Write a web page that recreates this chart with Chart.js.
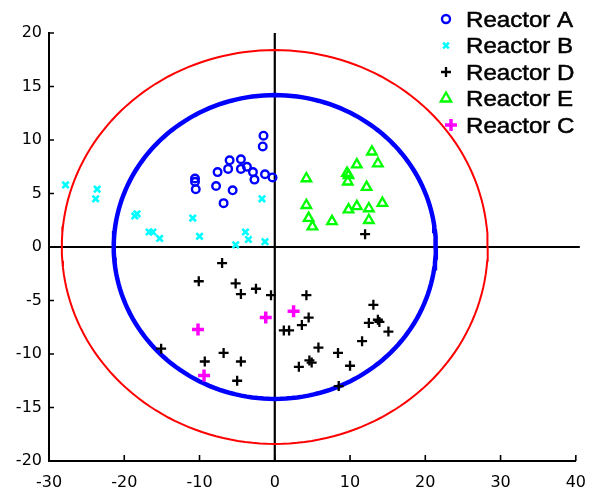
<!DOCTYPE html>
<html>
<head>
<meta charset="utf-8">
<script src="https://cdn.jsdelivr.net/npm/chart.js@4.4.1/dist/chart.umd.min.js"></script>
<style>
html, body { margin: 0; padding: 0; background: #fff; }
</style>
</head>
<body>
<canvas id="scoreChart" width="598" height="495"></canvas>
<script>
// PCA scores per reactor, [PC1, PC2]
const reactorA = [
    [-1.5, 10.4], [-1.6, 9.4], [-6.0, 8.1], [-4.5, 8.2], [-6.2, 7.3], [-4.5, 7.3],
    [-3.7, 7.5], [-2.9, 7.0], [-2.7, 6.3], [-1.3, 6.8], [-0.3, 6.5], [-7.6, 7.0],
    [-7.8, 5.7], [-10.6, 6.4], [-10.6, 6.1], [-10.5, 5.4], [-5.6, 5.3], [-6.8, 4.1]
];
const reactorB = [
    [-27.8, 5.8], [-23.6, 5.4], [-23.8, 4.5], [-18.6, 2.9], [-18.3, 3.1], [-10.9, 2.7],
    [-16.7, 1.4], [-16.2, 1.4], [-15.3, 0.8], [-10.0, 1.0], [-1.7, 4.5], [-3.9, 1.4],
    [-3.5, 0.7], [-5.2, 0.2], [-1.3, 0.5]
];
const reactorD = [
    [12.0, 1.2], [-7.0, -1.5], [-10.1, -3.2], [-5.2, -3.4], [-4.5, -4.4], [-2.5, -3.9],
    [-0.5, -4.5], [-15.1, -9.5], [-9.3, -10.7], [-6.8, -9.9], [-4.5, -10.7], [-5.0, -12.5],
    [4.2, -4.5], [4.5, -6.6], [3.6, -7.3], [1.2, -7.8], [1.9, -7.8], [5.8, -9.4],
    [8.4, -9.9], [4.6, -10.6], [4.9, -10.8], [3.2, -11.2], [10.0, -11.1], [11.6, -8.8],
    [12.5, -7.1], [13.7, -6.8], [13.9, -7.0], [13.1, -5.4], [15.1, -7.9], [8.5, -13.0]
];
const reactorE = [
    [12.9, 8.9], [13.7, 7.8], [10.9, 7.7], [9.6, 6.9], [9.8, 6.7], [9.7, 6.1],
    [4.2, 6.4], [12.2, 5.6], [4.2, 3.9], [14.3, 4.1], [10.9, 3.8], [9.8, 3.5],
    [12.5, 3.6], [12.5, 2.5], [4.5, 2.7], [5.0, 1.9], [7.6, 2.4]
];
const reactorC = [
    [-10.2, -7.7], [-1.2, -6.6], [-9.4, -12.0], [2.5, -6.0]
];

// confidence limits, semi-axes [PC1, PC2]
const innerLimit = [21.4, 14.2];
const outerLimit = [28.3, 18.4];

const xTicks = [-30, -20, -10, 0, 10, 20, 30, 40];
const yTicks = [-20, -15, -10, -5, 0, 5, 10, 15, 20];

function toPoints(arr) {
    return arr.map(p => ({ x: p[0], y: p[1] }));
}

function ellipse(radii) {
    const pts = [];
    for (let i = 0; i <= 180; i++) {
        const t = i / 180 * Math.PI * 2;
        pts.push({ x: radii[0] * Math.cos(t), y: radii[1] * Math.sin(t) });
    }
    return pts;
}

// zero lines and inward tick marks
const axisExtras = {
    id: 'axisExtras',
    beforeDatasetsDraw(chart) {
        const { ctx, chartArea, scales } = chart;
        const x0 = scales.x.getPixelForValue(0);
        const y0 = scales.y.getPixelForValue(0);
        ctx.save();
        ctx.strokeStyle = '#000';
        ctx.lineWidth = 2.2;
        ctx.beginPath();
        ctx.moveTo(x0, chartArea.top);
        ctx.lineTo(x0, chartArea.bottom);
        ctx.moveTo(chartArea.left, y0);
        ctx.lineTo(chartArea.right + 4, y0);
        ctx.stroke();
        ctx.restore();
    },
    afterDraw(chart) {
        const { ctx, chartArea, scales } = chart;
        ctx.save();
        ctx.strokeStyle = '#000';
        ctx.lineWidth = 1.6;
        ctx.beginPath();
        yTicks.forEach(v => {
            const y = scales.y.getPixelForValue(v);
            ctx.moveTo(chartArea.left, y);
            ctx.lineTo(chartArea.left + 5, y);
        });
        xTicks.forEach(v => {
            const x = scales.x.getPixelForValue(v);
            ctx.moveTo(x, chartArea.bottom);
            ctx.lineTo(x, chartArea.bottom - 6);
        });
        ctx.stroke();
        ctx.restore();
    }
};

// legend in the top right corner
const cornerLegend = {
    id: 'cornerLegend',
    afterDraw(chart) {
        const { ctx } = chart;
        const items = chart.data.datasets.filter(d => d.inLegend);
        ctx.save();
        items.forEach((d, i) => {
            const y = 19 + i * 26.5;
            const mx = d.label === 'Reactor C' ? 451 : 446;
            ctx.strokeStyle = d.borderColor;
            ctx.fillStyle = 'rgba(0,0,0,0)';
            ctx.lineWidth = d.borderWidth;
            Chart.helpers.drawPoint(ctx, {
                pointStyle: d.pointStyle, radius: d.legendRadius, borderWidth: d.borderWidth, rotation: 0
            }, mx, y);
            ctx.save();
            ctx.translate(466, y + 7.5);
            ctx.scale(1.12, 1);
            ctx.fillStyle = '#000';
            ctx.strokeStyle = '#000';
            ctx.lineWidth = 0.5;
            ctx.font = '21.5px "Liberation Sans", Arial, sans-serif';
            ctx.textBaseline = 'alphabetic';
            ctx.fillText(d.label, 0, 0);
            ctx.strokeText(d.label, 0, 0);
            ctx.restore();
        });
        ctx.restore();
    }
};

const tickFont = { family: 'DejaVu Sans', size: 16 };

new Chart(document.getElementById('scoreChart'), {
    type: 'scatter',
    data: {
        datasets: [
            {
                label: 'Reactor A', inLegend: true, legendRadius: 4,
                data: toPoints(reactorA),
                pointStyle: 'circle', pointRadius: 3.8,
                borderColor: '#0000ff', backgroundColor: 'rgba(0,0,0,0)', borderWidth: 2.4
            },
            {
                label: 'Reactor B', inLegend: true, legendRadius: 4,
                data: toPoints(reactorB),
                pointStyle: 'crossRot', pointRadius: 4.5,
                borderColor: '#00ffff', backgroundColor: '#00ffff', borderWidth: 2.6
            },
            {
                label: 'Reactor D', inLegend: true, legendRadius: 5,
                data: toPoints(reactorD),
                pointStyle: 'cross', pointRadius: 5,
                borderColor: '#000000', backgroundColor: '#000000', borderWidth: 2.3
            },
            {
                label: 'Reactor E', inLegend: true, legendRadius: 6,
                data: toPoints(reactorE),
                pointStyle: 'triangle', pointRadius: 5.5,
                borderColor: '#00ff00', backgroundColor: 'rgba(0,0,0,0)', borderWidth: 2.3
            },
            {
                label: 'Reactor C', inLegend: true, legendRadius: 6,
                data: toPoints(reactorC),
                pointStyle: 'cross', pointRadius: 6,
                borderColor: '#ff00ff', backgroundColor: '#ff00ff', borderWidth: 3.5
            },
            {
                label: 'inner limit',
                data: ellipse(innerLimit),
                showLine: true, pointRadius: 0,
                borderColor: '#0000ff', borderWidth: 4.5, order: 10
            },
            {
                label: 'outer limit',
                data: ellipse(outerLimit),
                showLine: true, pointRadius: 0,
                borderColor: '#ff0000', borderWidth: 2, order: 10
            }
        ]
    },
    options: {
        responsive: false,
        maintainAspectRatio: false,
        animation: false,
        layout: { padding: { top: 33, right: 20, left: 0, bottom: 0 } },
        plugins: {
            legend: { display: false },
            tooltip: { enabled: false }
        },
        scales: {
            x: {
                type: 'linear',
                min: -30, max: 40,
                afterBuildTicks: (scale) => { scale.ticks = xTicks.map(v => ({ value: v })); },
                afterFit: (scale) => { scale.height = 34; },
                ticks: { font: tickFont, color: '#000', padding: 12, maxRotation: 0 },
                grid: { drawOnChartArea: false, drawTicks: false },
                border: { color: '#000', width: 2 }
            },
            y: {
                type: 'linear',
                min: -20, max: 20,
                afterBuildTicks: (scale) => { scale.ticks = yTicks.map(v => ({ value: v })); },
                afterFit: (scale) => { scale.width = 49; },
                ticks: { font: tickFont, color: '#000', padding: 7 },
                grid: { drawOnChartArea: false, drawTicks: false },
                border: { color: '#000', width: 2 }
            }
        }
    },
    plugins: [axisExtras, cornerLegend]
});
</script>
</body>
</html>
